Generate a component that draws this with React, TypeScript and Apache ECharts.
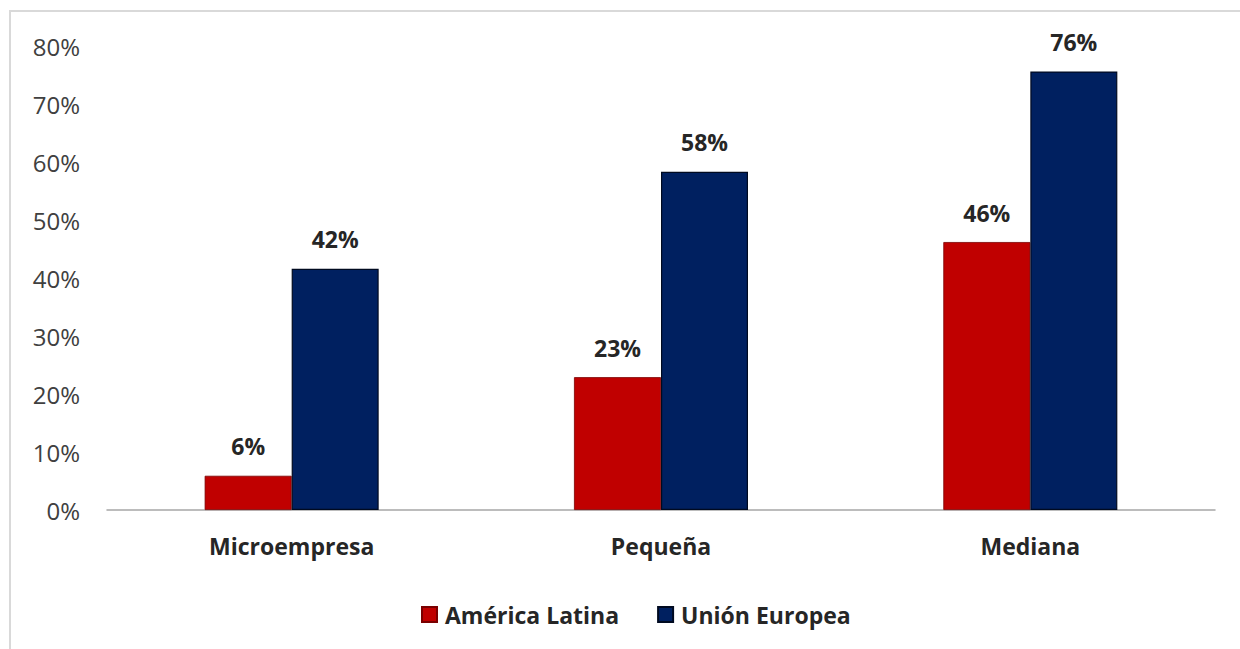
import React, { useEffect, useRef } from "react";
import * as echarts from "echarts";

const categories = ["Microempresa", "Pequeña", "Mediana"];
const seriesNames = ["América Latina", "Unión Europea"];
const latam = [5.9, 22.9, 46.2];
const ue = [41.6, 58.3, 75.6];
const yTicks = [0, 10, 20, 30, 40, 50, 60, 70, 80];

const FONT = "'Open Sans', 'Noto Sans', sans-serif";

export default function App() {
  const ref = useRef<HTMLDivElement>(null);
  useEffect(() => {
    document.body.style.margin = "0";
    const chart = echarts.init(ref.current!, null, { renderer: "svg" });
    const labelCfg = {
      show: true,
      position: "top",
      distance: 18,
      fontFamily: FONT,
      fontWeight: "bold",
      fontSize: 23,
      color: "#262626",
      formatter: (p: any) => Math.round(p.value) + "%",
    };
    chart.setOption({
      animation: false,
      backgroundColor: "#ffffff",
      graphic: [
        {
          type: "rect",
          shape: { x: 10, y: 11, width: 1260, height: 700 },
          style: { fill: "none", stroke: "#d9d9d9", lineWidth: 2 },
          silent: true,
        },
      ],
      grid: { left: 107, right: 25, top: 46, bottom: 139 },
      legend: {
        left: 416,
        top: 598,
        itemWidth: 15,
        itemHeight: 15,
        itemGap: 38,
        icon: "rect",
        textStyle: {
          fontFamily: FONT,
          fontWeight: "bold",
          fontSize: 23,
          color: "#262626",
          padding: [0, 0, 0, 3],
        },
        data: seriesNames,
      },
      xAxis: {
        type: "category",
        data: categories,
        axisLine: { lineStyle: { color: "#a6a6a6", width: 1.5 } },
        axisTick: { show: false },
        axisLabel: {
          margin: 24,
          fontFamily: FONT,
          fontWeight: "bold",
          fontSize: 23,
          color: "#262626",
        },
      },
      yAxis: {
        type: "value",
        min: yTicks[0],
        max: yTicks[yTicks.length - 1],
        interval: 10,
        splitLine: { show: false },
        axisLine: { show: false },
        axisTick: { show: false },
        axisLabel: {
          margin: 27,
          formatter: "{value}%",
          fontFamily: FONT,
          fontSize: 24,
          color: "#404040",
        },
      },
      series: [
        {
          name: seriesNames[0],
          type: "bar",
          data: latam,
          barWidth: 87,
          barGap: "0%",
          itemStyle: { color: "#c00000", borderColor: "#7a0000", borderWidth: 0.8 },
          label: labelCfg,
        },
        {
          name: seriesNames[1],
          type: "bar",
          data: ue,
          barWidth: 87,
          barGap: "0%",
          itemStyle: { color: "#002060", borderColor: "#000a20", borderWidth: 1.2 },
          label: labelCfg,
        },
      ],
    });
    return () => chart.dispose();
  }, []);
  return (
    <div
      ref={ref}
      style={{ position: "absolute", left: 0, top: 0, width: 1240, height: 649 }}
    />
  );
}
